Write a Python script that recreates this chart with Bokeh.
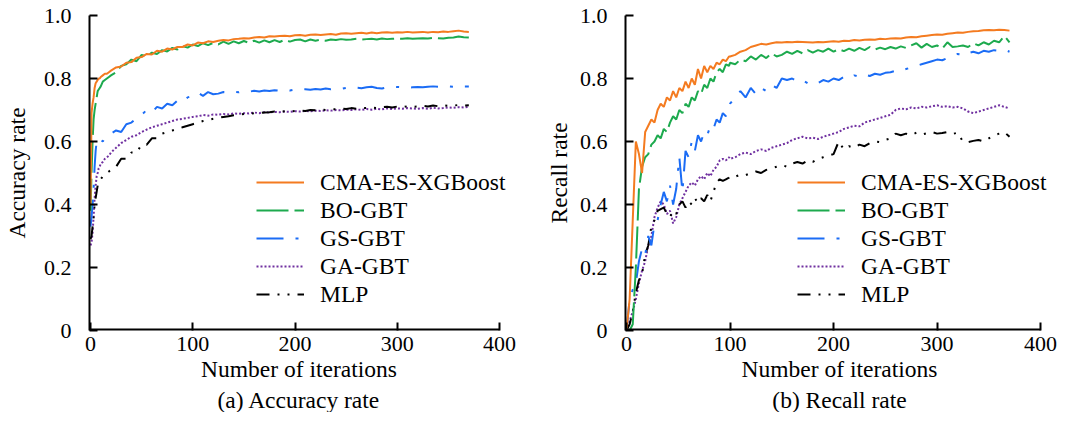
from bokeh.plotting import figure
from bokeh.models import Range1d, FixedTicker, Legend, LegendItem, Title
from bokeh.layouts import row
from bokeh.embed import file_html
from bokeh.resources import INLINE

FONT = "Liberation Serif"

# ---------------- data ----------------
series_names = ["CMA-ES-XGBoost", "BO-GBT", "GS-GBT", "GA-GBT", "MLP"]

iters_acc = [0, 1, 2, 3, 4, 5, 6, 7, 8, 9, 10, 12, 14, 16, 18, 20] + list(range(25, 371, 5))

acc_cma = [0.40, 0.69, 0.72, 0.74, 0.77, 0.785, 0.79, 0.795, 0.80, 0.80, 0.805, 0.81, 0.815, 0.815, 0.82, 0.825,
           0.835, 0.838, 0.85, 0.852, 0.866, 0.868, 0.878, 0.876, 0.888, 0.885,
           0.895, 0.892, 0.90, 0.90, 0.908, 0.905, 0.914, 0.912, 0.918, 0.916,
           0.92, 0.922, 0.921, 0.925, 0.926, 0.928, 0.927, 0.93, 0.932, 0.93,
           0.934, 0.933, 0.935, 0.936, 0.934, 0.937, 0.938, 0.936, 0.939, 0.94,
           0.938, 0.94, 0.941, 0.939, 0.943, 0.944, 0.942, 0.944, 0.945, 0.943,
           0.946, 0.944, 0.946, 0.947, 0.945, 0.947, 0.946, 0.948, 0.946, 0.947,
           0.948, 0.946, 0.948, 0.947, 0.949, 0.948, 0.95, 0.952, 0.949, 0.948]
acc_bo = [0.38, 0.50, 0.60, 0.67, 0.70, 0.72, 0.74, 0.76, 0.765, 0.77, 0.775, 0.79, 0.795, 0.80, 0.805, 0.81,
          0.82, 0.84, 0.845, 0.86, 0.855, 0.875, 0.87, 0.882, 0.878, 0.89,
          0.886, 0.897, 0.892, 0.903, 0.898, 0.908, 0.903, 0.912, 0.906, 0.913,
          0.908, 0.917, 0.91, 0.918, 0.912, 0.919, 0.913, 0.92, 0.914, 0.921,
          0.915, 0.922, 0.916, 0.923, 0.917, 0.922, 0.924, 0.918, 0.924, 0.92,
          0.923, 0.92, 0.924, 0.922, 0.925, 0.923, 0.924, 0.926, 0.924, 0.925,
          0.926, 0.924, 0.927, 0.925, 0.926, 0.927, 0.926, 0.928, 0.926, 0.927,
          0.928, 0.927, 0.929, 0.928, 0.927, 0.929, 0.93, 0.933, 0.931, 0.93]
acc_gs = [0.33, 0.36, 0.40, 0.45, 0.52, 0.57, 0.60, 0.60, 0.595, 0.60, 0.605, 0.60, 0.61, 0.615, 0.62, 0.625,
          0.635, 0.63, 0.655, 0.66, 0.675, 0.685, 0.70, 0.692, 0.71, 0.705,
          0.72, 0.715, 0.73, 0.725, 0.74, 0.745, 0.755, 0.745, 0.757, 0.75,
          0.752, 0.757, 0.755, 0.758, 0.756, 0.76, 0.758, 0.761, 0.759, 0.762,
          0.76, 0.763, 0.761, 0.764, 0.762, 0.765, 0.763, 0.766, 0.764, 0.767,
          0.765, 0.768, 0.766, 0.769, 0.767, 0.77, 0.768, 0.771, 0.769, 0.772,
          0.774, 0.77, 0.768, 0.772, 0.774, 0.773, 0.772, 0.771, 0.772, 0.773,
          0.772, 0.774, 0.775, 0.774, 0.776, 0.775, 0.774, 0.776, 0.775, 0.775]
acc_ga = [0.27, 0.28, 0.31, 0.36, 0.42, 0.46, 0.49, 0.50, 0.515, 0.52, 0.53, 0.535, 0.545, 0.55, 0.555, 0.565,
          0.58, 0.595, 0.605, 0.615, 0.62, 0.63, 0.638, 0.645, 0.65, 0.655,
          0.66, 0.665, 0.67, 0.672, 0.675, 0.678, 0.68, 0.684, 0.682, 0.686,
          0.685, 0.687, 0.686, 0.689, 0.688, 0.69, 0.689, 0.692, 0.69, 0.693,
          0.692, 0.694, 0.693, 0.695, 0.694, 0.696, 0.695, 0.697, 0.696, 0.698,
          0.697, 0.699, 0.698, 0.70, 0.699, 0.701, 0.70, 0.702, 0.70, 0.703,
          0.701, 0.704, 0.702, 0.705, 0.703, 0.705, 0.704, 0.706, 0.705, 0.704,
          0.706, 0.704, 0.707, 0.705, 0.706, 0.708, 0.707, 0.709, 0.708, 0.71]
acc_mlp = [0.29, 0.30, 0.33, 0.36, 0.40, 0.42, 0.44, 0.46, 0.47, 0.475, 0.48, 0.49, 0.495, 0.50, 0.505, 0.51,
           0.52, 0.545, 0.545, 0.565, 0.565, 0.59, 0.59, 0.61, 0.61, 0.625,
           0.63, 0.635, 0.64, 0.645, 0.65, 0.655, 0.66, 0.665, 0.668, 0.672,
           0.675, 0.678, 0.68, 0.683, 0.685, 0.687, 0.688, 0.69, 0.69, 0.692,
           0.693, 0.695, 0.694, 0.696, 0.695, 0.697, 0.698, 0.697, 0.70, 0.699,
           0.701, 0.70, 0.703, 0.702, 0.705, 0.703, 0.706, 0.704, 0.707, 0.706,
           0.708, 0.706, 0.709, 0.71, 0.708, 0.711, 0.709, 0.712, 0.71, 0.711,
           0.713, 0.711, 0.714, 0.712, 0.715, 0.713, 0.714, 0.716, 0.714, 0.715]

iters_rec = list(range(0, 100, 3)) + list(range(100, 371, 5))

rec_cma = [0.0, 0.1, 0.35, 0.60, 0.56, 0.50, 0.63, 0.65, 0.67, 0.66,
           0.70, 0.72, 0.71, 0.74, 0.73, 0.76, 0.74, 0.77, 0.76, 0.79,
           0.77, 0.80, 0.78, 0.83, 0.80, 0.84, 0.82, 0.84, 0.83, 0.85,
           0.845, 0.86, 0.855, 0.87,
           0.87, 0.875, 0.885, 0.89, 0.90, 0.905, 0.91, 0.908, 0.912, 0.915,
           0.914, 0.916, 0.915, 0.917, 0.916, 0.915, 0.914, 0.916, 0.915, 0.917,
           0.918, 0.917, 0.92, 0.919, 0.922, 0.921, 0.923, 0.924, 0.923, 0.926,
           0.925, 0.927, 0.928, 0.927, 0.93, 0.932, 0.931, 0.934, 0.936, 0.938,
           0.94, 0.939, 0.942, 0.944, 0.946, 0.945, 0.948, 0.95, 0.951, 0.953,
           0.954, 0.953, 0.955, 0.954, 0.952]
rec_bo = [0.0, 0.0, 0.02, 0.20, 0.45, 0.52, 0.55, 0.56, 0.59, 0.60,
          0.62, 0.61, 0.64, 0.63, 0.66, 0.68, 0.67, 0.70, 0.69, 0.72,
          0.71, 0.74, 0.73, 0.76, 0.75, 0.78, 0.77, 0.80, 0.79, 0.82,
          0.83, 0.82, 0.845, 0.84,
          0.85, 0.845, 0.86, 0.855, 0.87, 0.86, 0.875, 0.865, 0.88, 0.87,
          0.875, 0.885, 0.878, 0.888, 0.88, 0.89, 0.882, 0.89, 0.885, 0.895,
          0.885, 0.893, 0.887, 0.895, 0.888, 0.897, 0.89, 0.90, 0.892, 0.898,
          0.893, 0.90, 0.895, 0.902, 0.897, 0.905, 0.912, 0.898, 0.91, 0.90,
          0.905, 0.895, 0.915, 0.90, 0.902, 0.905, 0.90, 0.912, 0.905, 0.915,
          0.908, 0.92, 0.915, 0.935, 0.915]
rec_gs = [0.0, 0.10, 0.13, 0.15, 0.22, 0.26, 0.24, 0.30, 0.27, 0.34,
          0.35, 0.40, 0.44, 0.41, 0.46, 0.40, 0.45, 0.55, 0.44, 0.57,
          0.55, 0.60, 0.57, 0.62, 0.60, 0.63, 0.62, 0.65, 0.64, 0.67,
          0.66, 0.69, 0.68, 0.71,
          0.72, 0.74, 0.76, 0.74, 0.77, 0.75, 0.77, 0.76, 0.78, 0.77,
          0.80, 0.795, 0.80, 0.79, 0.795, 0.785, 0.79, 0.785, 0.795, 0.79,
          0.80, 0.795, 0.805, 0.80, 0.81, 0.805, 0.812, 0.808, 0.815, 0.812,
          0.818, 0.82, 0.825, 0.823, 0.83, 0.835, 0.84, 0.845, 0.85, 0.855,
          0.86, 0.858, 0.865, 0.87, 0.878, 0.872, 0.88, 0.885, 0.88, 0.888,
          0.885, 0.89, 0.888, 0.892, 0.885]
rec_ga = [0.0, 0.03, 0.06, 0.10, 0.15, 0.19, 0.22, 0.27, 0.30, 0.36,
          0.39, 0.41, 0.40, 0.37, 0.38, 0.34, 0.36, 0.40, 0.42, 0.44,
          0.46, 0.47, 0.46, 0.48, 0.49, 0.48, 0.50, 0.49, 0.51, 0.52,
          0.54, 0.545, 0.54, 0.55,
          0.545, 0.55, 0.56, 0.565, 0.56, 0.57, 0.575, 0.57, 0.58, 0.585,
          0.59, 0.595, 0.605, 0.61, 0.615, 0.61, 0.612, 0.608, 0.615, 0.62,
          0.625, 0.63, 0.64, 0.645, 0.65, 0.648, 0.66, 0.665, 0.67, 0.675,
          0.68, 0.685, 0.70, 0.705, 0.702, 0.708, 0.705, 0.71, 0.708, 0.712,
          0.715, 0.71, 0.712, 0.708, 0.71, 0.705, 0.695, 0.69, 0.695, 0.70,
          0.705, 0.71, 0.715, 0.71, 0.705]
rec_mlp = [0.0, 0.02, 0.06, 0.12, 0.16, 0.18, 0.24, 0.27, 0.33, 0.35,
           0.38, 0.385, 0.39, 0.37, 0.36, 0.38, 0.37, 0.40, 0.41, 0.39,
           0.41, 0.40, 0.42, 0.405, 0.42, 0.41, 0.43, 0.41, 0.44, 0.47,
           0.48, 0.475, 0.48, 0.485,
           0.49, 0.488, 0.495, 0.493, 0.50, 0.505, 0.50, 0.51, 0.515, 0.52,
           0.525, 0.52, 0.53, 0.535, 0.53, 0.54, 0.535, 0.545, 0.55, 0.555,
           0.56, 0.60, 0.575, 0.585, 0.58, 0.59, 0.585, 0.595, 0.60, 0.598,
           0.605, 0.61, 0.625, 0.62, 0.625, 0.62, 0.628, 0.622, 0.626, 0.63,
           0.625, 0.627, 0.63, 0.624, 0.628, 0.60, 0.598, 0.602, 0.605, 0.60,
           0.61, 0.62, 0.625, 0.63, 0.615]

x_ticks = [0, 100, 200, 300, 400]
y_ticks = [0, 0.2, 0.4, 0.6, 0.8, 1.0]
y_tick_labels = ["0", "0.2", "0.4", "0.6", "0.8", "1.0"]

# ---------------- styles ----------------
colors = ["#F47B20", "#1DAA4E", "#1B6CF5", "#7030A0", "#000000"]
dashes = ["solid", "32 6", "27 12 3 12", "2 2", "13 8 2 8 2 8"]
draw_order = [3, 4, 2, 1, 0]


def panel(bl, fw, br, x_end, xs, ys_list, ylabel, subtitle, leg_x, y_lab_standoff):
    p = figure(title=None, frame_width=fw, frame_height=315, output_backend="svg",
               toolbar_location=None,
               x_range=Range1d(-1, x_end), y_range=Range1d(0, 1.0),
               min_border_left=bl, min_border_right=br, min_border_top=15, min_border_bottom=0)
    p.outline_line_color = None
    p.grid.visible = False
    p.background_fill_color = "white"
    renderers = {}
    for i in draw_order:
        renderers[i] = p.line(xs, ys_list[i], line_color=colors[i], line_width=2,
                              line_dash=dashes[i])
    # x-axis baseline ending at the last tick (frame is wider to hold the legend text)
    p.line([-1, x_ticks[-1]], [y_ticks[0], y_ticks[0]], line_color="black", line_width=4)
    for ax in (p.xaxis[0], p.yaxis[0]):
        ax.axis_line_width = 2
        ax.major_tick_line_width = 2
        ax.major_tick_in = 8
        ax.major_tick_out = 0
        ax.minor_tick_line_color = None
        ax.major_label_text_font = FONT
        ax.major_label_text_font_size = "22px"
        ax.major_label_text_color = "black"
        ax.axis_label_text_font = FONT
        ax.axis_label_text_font_size = "23.5px"
        ax.axis_label_text_font_style = "normal"
        ax.axis_label_text_color = "black"
    p.xaxis.axis_line_color = None
    p.xaxis.ticker = FixedTicker(ticks=x_ticks)
    p.yaxis.ticker = FixedTicker(ticks=y_ticks)
    p.yaxis.major_label_overrides = {t: s for t, s in zip(y_ticks, y_tick_labels)}
    p.xaxis.major_label_standoff = 6
    p.yaxis.major_label_standoff = 18
    p.xaxis.axis_label = "Number of iterations"
    p.xaxis.axis_label_standoff = 2
    p.yaxis.axis_label = ylabel
    p.yaxis.axis_label_standoff = y_lab_standoff

    items = [LegendItem(label=series_names[i], renderers=[renderers[i]]) for i in range(5)]
    leg = Legend(items=items, location=(leg_x, 22), border_line_color=None,
                 background_fill_alpha=0, padding=0, margin=0, spacing=0,
                 glyph_width=48, glyph_height=28, label_height=28, label_standoff=16,
                 label_text_font=FONT, label_text_font_size="23.5px", label_text_color="black")
    p.add_layout(leg, "center")

    t = Title(text=subtitle, align="center", text_font=FONT, text_font_size="23.5px",
              text_font_style="normal", text_color="black", standoff=0, offset=0)
    p.add_layout(t, "below")
    return p


p1 = panel(83, 419, 30, 408.8, iters_acc, [acc_cma, acc_bo, acc_gs, acc_ga, acc_mlp],
           "Accuracy rate", "(a) Accuracy rate", 167, 11)
p2 = panel(87, 428, 7, 412.5, iters_rec, [rec_cma, rec_bo, rec_gs, rec_ga, rec_mlp],
           "Recall rate", "(b) Recall rate", 172, 5)

layout = row(p1, p2)
open("out.html", "w").write(file_html(layout, INLINE))
